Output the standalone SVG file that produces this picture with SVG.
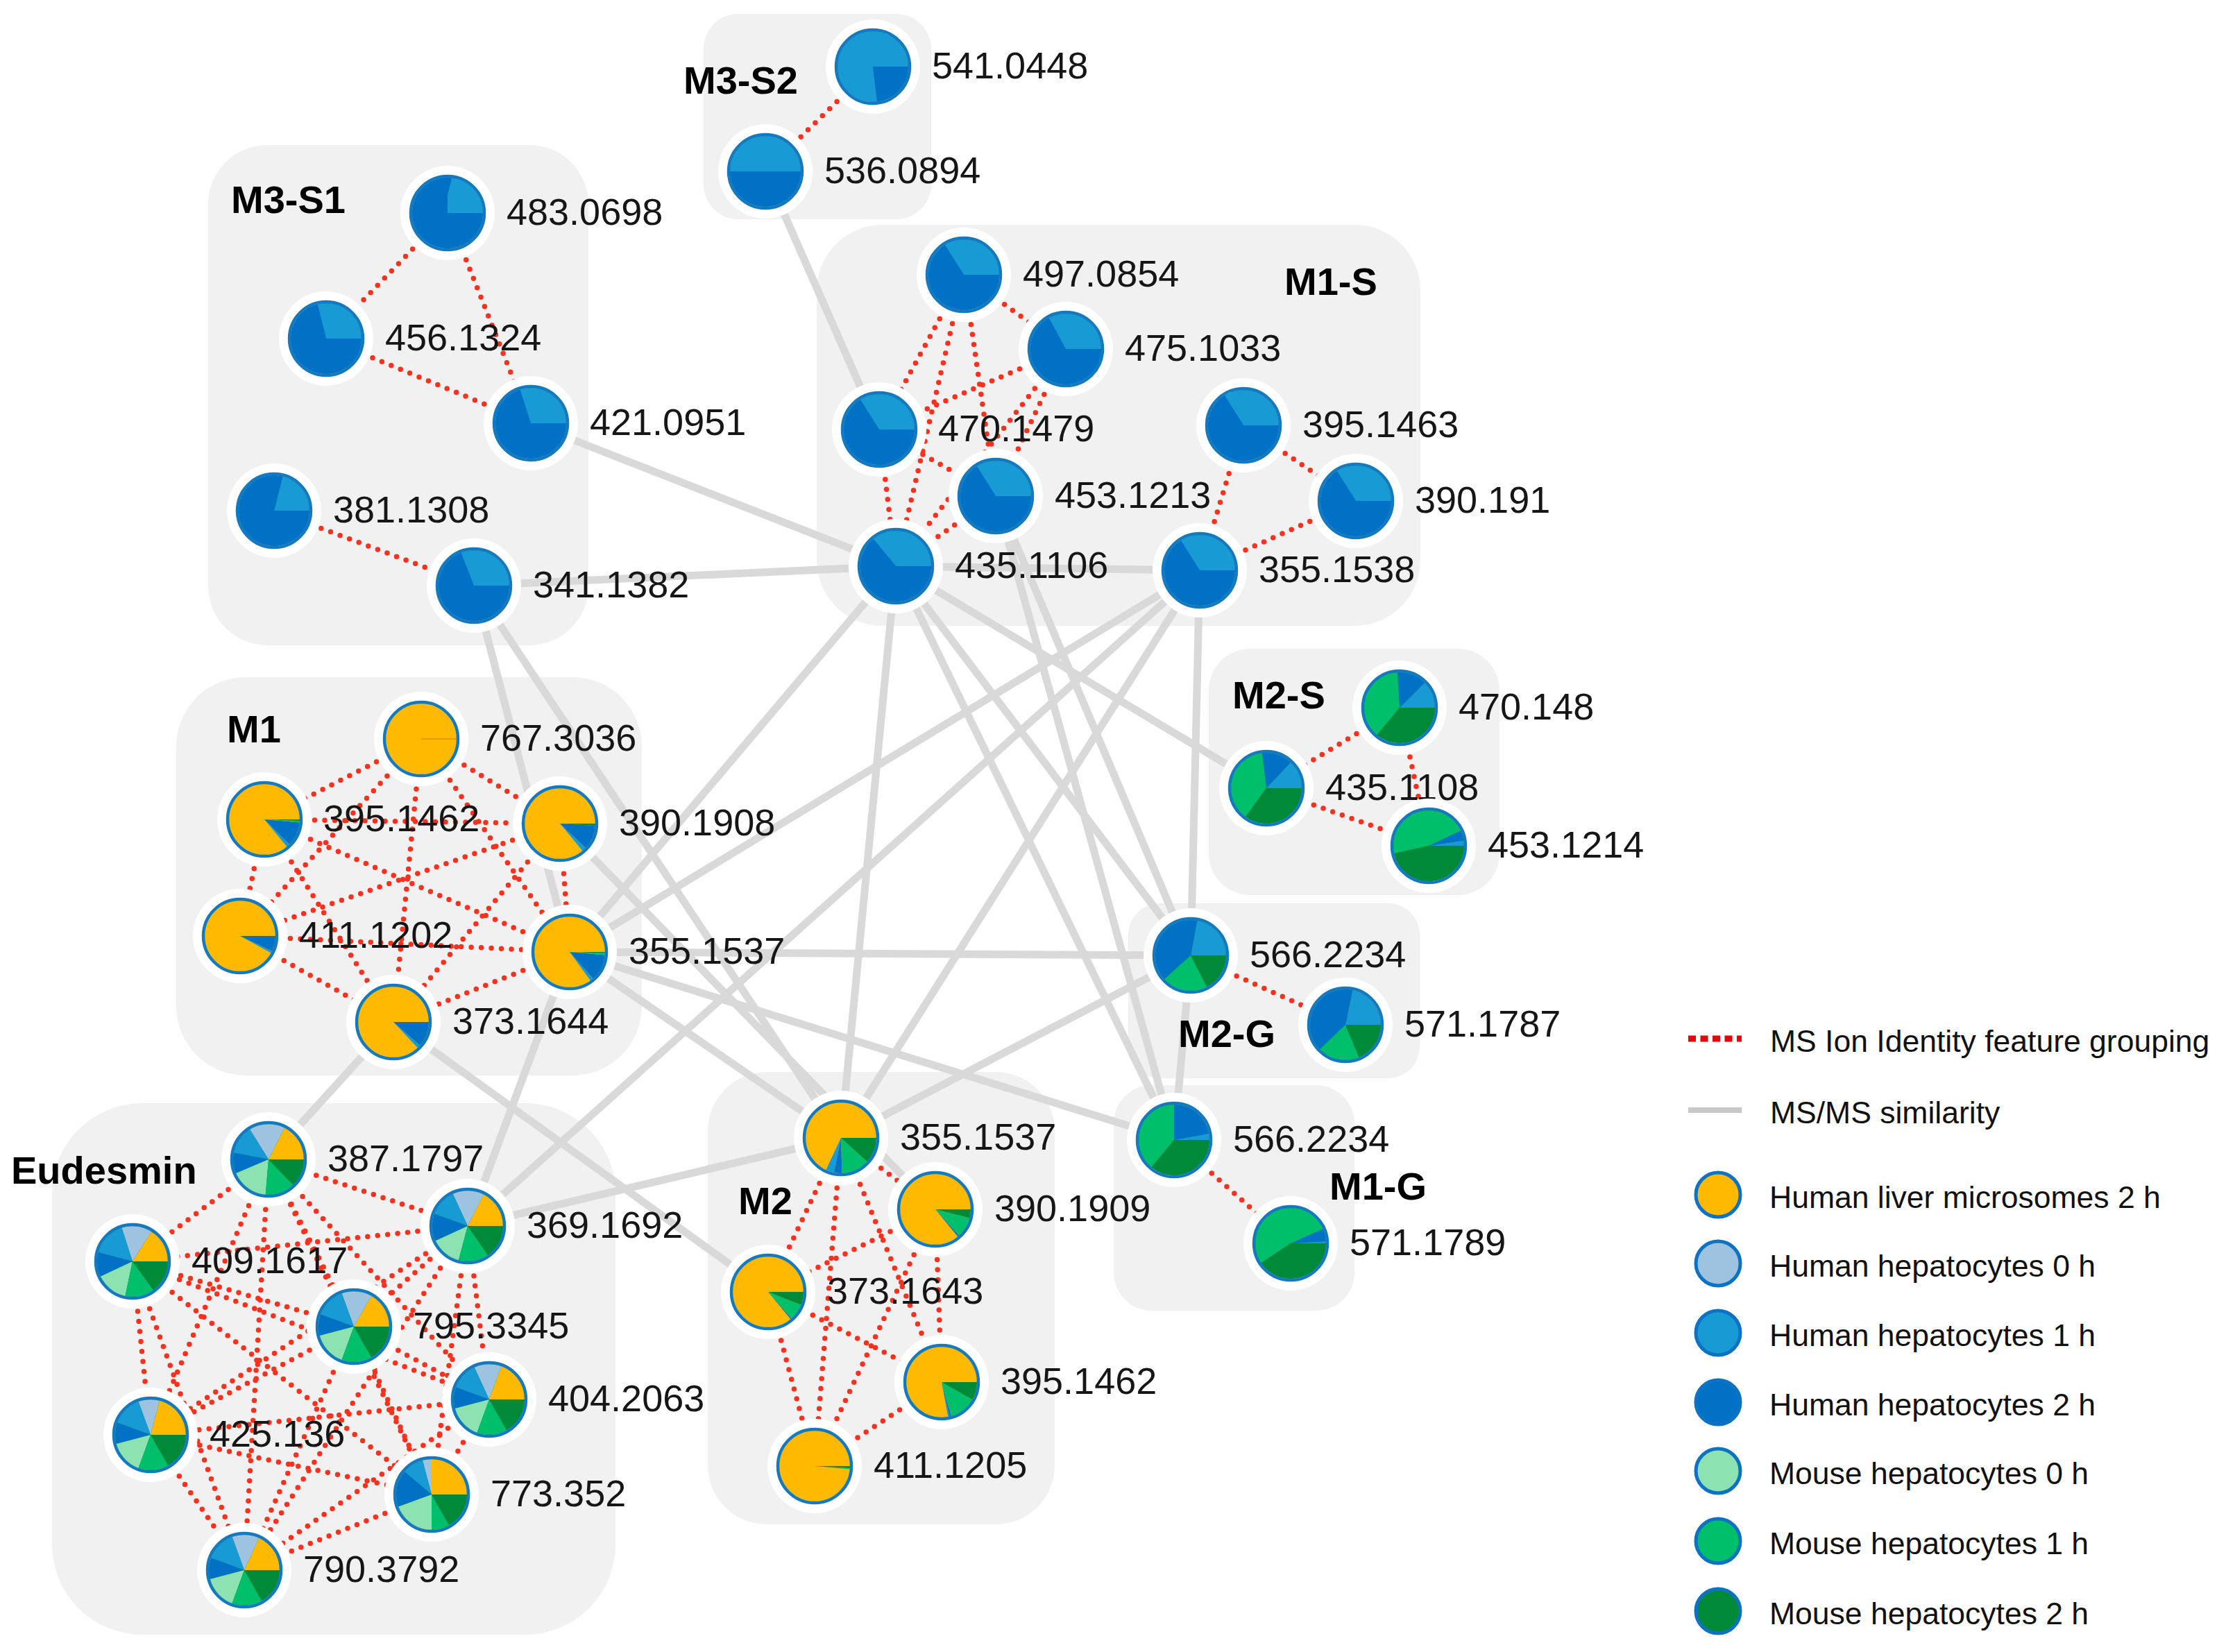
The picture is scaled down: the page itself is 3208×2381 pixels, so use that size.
<svg xmlns="http://www.w3.org/2000/svg" xmlns:xlink="http://www.w3.org/1999/xlink" width="3208" height="2381" viewBox="0 0 3208 2381">
<style>
.box{fill:#f1f1f1}
.glbl{font-family:"Liberation Sans",Arial,sans-serif;font-weight:bold;font-size:56px;fill:#000}
.gray line{stroke:#d9d9d9;stroke-width:11}
.red line{stroke:#f8321e;stroke-width:7.5;stroke-linecap:round;stroke-dasharray:0 14.5}
.halo{fill:#fff}
.rim{fill:none;stroke:#1479bd;stroke-width:4.5}
.lbl{font-family:"Liberation Sans",Arial,sans-serif;font-size:54px;fill:#161616}
.y{stroke:#ffb900}.h0{stroke:#9dc3e0}.h1{stroke:#189bd5}.h2{stroke:#0071c5}.m0{stroke:#8ce2b0}.m1{stroke:#00bf6b}.m2{stroke:#008a37}
.bb{fill:#0071c5}.bg{fill:#008a37}.by{fill:#ffb900}
.leg{font-family:"Liberation Sans",Arial,sans-serif;font-size:44.5px;fill:#111}
.lc{stroke:#0e72c4;stroke-width:5}
</style>
<defs>
<circle id="sl" r="25.5" pathLength="100" fill="none" stroke-width="51"/>
</defs>
<rect width="3208" height="2381" fill="#fff"/>

<g id="group-boxes">
<rect id="box-M3-S2" class="box" x="1014" y="20" width="328" height="296" rx="50"/>
<rect id="box-M3-S1" class="box" x="300" y="209" width="548" height="721" rx="85"/>
<rect id="box-M1-S" class="box" x="1177" y="324" width="870" height="578" rx="95"/>
<rect id="box-M2-S" class="box" x="1742" y="935" width="419" height="355" rx="60"/>
<rect id="box-M2-G" class="box" x="1626" y="1302" width="420" height="252" rx="45"/>
<rect id="box-M1-G" class="box" x="1605" y="1564" width="347" height="325" rx="55"/>
<rect id="box-M1" class="box" x="254" y="976" width="671" height="574" rx="100"/>
<rect id="box-Eudesmin" class="box" x="75" y="1590" width="812" height="766" rx="130"/>
<rect id="box-M2" class="box" x="1020" y="1545" width="500" height="652" rx="85"/>
</g>

<g id="connectors">
<g class="gray">
<line x1="1103" y1="247" x2="1267" y2="619"/>
<line x1="765" y1="610" x2="1291" y2="816"/>
<line x1="683" y1="844" x2="1291" y2="816"/>
<line x1="683" y1="844" x2="821" y2="1372"/>
<line x1="683" y1="844" x2="1212" y2="1640"/>
<line x1="1291" y1="816" x2="1729" y2="822"/>
<line x1="1291" y1="816" x2="821" y2="1372"/>
<line x1="1291" y1="816" x2="1212" y2="1640"/>
<line x1="1291" y1="816" x2="1716" y2="1377"/>
<line x1="1291" y1="816" x2="1692" y2="1643"/>
<line x1="1291" y1="816" x2="1825" y2="1136"/>
<line x1="1435" y1="715" x2="1716" y2="1377"/>
<line x1="1435" y1="715" x2="1692" y2="1643"/>
<line x1="1729" y1="822" x2="1716" y2="1377"/>
<line x1="1729" y1="822" x2="1212" y2="1640"/>
<line x1="1729" y1="822" x2="821" y2="1372"/>
<line x1="1729" y1="822" x2="674" y2="1767"/>
<line x1="1716" y1="1377" x2="1692" y2="1643"/>
<line x1="821" y1="1372" x2="1716" y2="1377"/>
<line x1="821" y1="1372" x2="1692" y2="1643"/>
<line x1="821" y1="1372" x2="1212" y2="1640"/>
<line x1="821" y1="1372" x2="674" y2="1767"/>
<line x1="807" y1="1187" x2="1348" y2="1743"/>
<line x1="567" y1="1473" x2="387" y2="1671"/>
<line x1="567" y1="1473" x2="1107" y2="1862"/>
<line x1="674" y1="1767" x2="1212" y2="1640"/>
<line x1="1212" y1="1640" x2="1716" y2="1377"/>
</g>
<g class="red">
<line x1="1258" y1="96" x2="1103" y2="247"/>
<line x1="645" y1="307" x2="470" y2="488"/>
<line x1="645" y1="307" x2="765" y2="610"/>
<line x1="470" y1="488" x2="765" y2="610"/>
<line x1="395" y1="736" x2="683" y2="844"/>
<line x1="1389" y1="396" x2="1536" y2="503"/>
<line x1="1389" y1="396" x2="1267" y2="619"/>
<line x1="1389" y1="396" x2="1435" y2="715"/>
<line x1="1389" y1="396" x2="1291" y2="816"/>
<line x1="1536" y1="503" x2="1267" y2="619"/>
<line x1="1536" y1="503" x2="1435" y2="715"/>
<line x1="1536" y1="503" x2="1291" y2="816"/>
<line x1="1267" y1="619" x2="1435" y2="715"/>
<line x1="1267" y1="619" x2="1291" y2="816"/>
<line x1="1435" y1="715" x2="1291" y2="816"/>
<line x1="1792" y1="613" x2="1954" y2="722"/>
<line x1="1792" y1="613" x2="1729" y2="822"/>
<line x1="1954" y1="722" x2="1729" y2="822"/>
<line x1="2017" y1="1020" x2="1825" y2="1136"/>
<line x1="2017" y1="1020" x2="2059" y2="1219"/>
<line x1="1825" y1="1136" x2="2059" y2="1219"/>
<line x1="1716" y1="1377" x2="1939" y2="1477"/>
<line x1="1692" y1="1643" x2="1860" y2="1792"/>
<line x1="607" y1="1065" x2="381" y2="1181"/>
<line x1="607" y1="1065" x2="807" y2="1187"/>
<line x1="607" y1="1065" x2="346" y2="1349"/>
<line x1="607" y1="1065" x2="821" y2="1372"/>
<line x1="607" y1="1065" x2="567" y2="1473"/>
<line x1="381" y1="1181" x2="807" y2="1187"/>
<line x1="381" y1="1181" x2="346" y2="1349"/>
<line x1="381" y1="1181" x2="821" y2="1372"/>
<line x1="381" y1="1181" x2="567" y2="1473"/>
<line x1="807" y1="1187" x2="346" y2="1349"/>
<line x1="807" y1="1187" x2="821" y2="1372"/>
<line x1="807" y1="1187" x2="567" y2="1473"/>
<line x1="346" y1="1349" x2="821" y2="1372"/>
<line x1="346" y1="1349" x2="567" y2="1473"/>
<line x1="821" y1="1372" x2="567" y2="1473"/>
<line x1="1212" y1="1640" x2="1348" y2="1743"/>
<line x1="1212" y1="1640" x2="1107" y2="1862"/>
<line x1="1212" y1="1640" x2="1357" y2="1992"/>
<line x1="1212" y1="1640" x2="1174" y2="2113"/>
<line x1="1348" y1="1743" x2="1107" y2="1862"/>
<line x1="1348" y1="1743" x2="1357" y2="1992"/>
<line x1="1348" y1="1743" x2="1174" y2="2113"/>
<line x1="1107" y1="1862" x2="1357" y2="1992"/>
<line x1="1107" y1="1862" x2="1174" y2="2113"/>
<line x1="1357" y1="1992" x2="1174" y2="2113"/>
<line x1="387" y1="1671" x2="674" y2="1767"/>
<line x1="387" y1="1671" x2="191" y2="1818"/>
<line x1="387" y1="1671" x2="510" y2="1912"/>
<line x1="387" y1="1671" x2="705" y2="2017"/>
<line x1="387" y1="1671" x2="217" y2="2068"/>
<line x1="387" y1="1671" x2="622" y2="2154"/>
<line x1="387" y1="1671" x2="352" y2="2263"/>
<line x1="674" y1="1767" x2="191" y2="1818"/>
<line x1="674" y1="1767" x2="510" y2="1912"/>
<line x1="674" y1="1767" x2="705" y2="2017"/>
<line x1="674" y1="1767" x2="217" y2="2068"/>
<line x1="674" y1="1767" x2="622" y2="2154"/>
<line x1="674" y1="1767" x2="352" y2="2263"/>
<line x1="191" y1="1818" x2="510" y2="1912"/>
<line x1="191" y1="1818" x2="705" y2="2017"/>
<line x1="191" y1="1818" x2="217" y2="2068"/>
<line x1="191" y1="1818" x2="622" y2="2154"/>
<line x1="191" y1="1818" x2="352" y2="2263"/>
<line x1="510" y1="1912" x2="705" y2="2017"/>
<line x1="510" y1="1912" x2="217" y2="2068"/>
<line x1="510" y1="1912" x2="622" y2="2154"/>
<line x1="510" y1="1912" x2="352" y2="2263"/>
<line x1="705" y1="2017" x2="217" y2="2068"/>
<line x1="705" y1="2017" x2="622" y2="2154"/>
<line x1="705" y1="2017" x2="352" y2="2263"/>
<line x1="217" y1="2068" x2="622" y2="2154"/>
<line x1="217" y1="2068" x2="352" y2="2263"/>
<line x1="622" y1="2154" x2="352" y2="2263"/>
</g>
</g>

<g id="group-labels">
<text class="glbl" x="985" y="135">M3-S2</text>
<text class="glbl" x="333" y="307">M3-S1</text>
<text class="glbl" x="1851" y="425">M1-S</text>
<text class="glbl" x="1776" y="1021">M2-S</text>
<text class="glbl" x="1698" y="1509">M2-G</text>
<text class="glbl" x="1916" y="1729">M1-G</text>
<text class="glbl" x="327" y="1070">M1</text>
<text class="glbl" x="16" y="1706">Eudesmin</text>
<text class="glbl" x="1064" y="1750">M2</text>
</g>

<g id="nodes">
<g id="n-541.0448" transform="translate(1258,96)"><circle class="halo" r="68"/><circle class="bb" r="51"/><g transform="scale(1,-1)"><use href="#sl" class="h1" stroke-dasharray="77 100"/><use href="#sl" class="h2" stroke-dasharray="23 100" stroke-dashoffset="-77"/></g><circle class="rim" r="53"/><text class="lbl" x="85" y="17">541.0448</text></g>
<g id="n-536.0894" transform="translate(1103,247)"><circle class="halo" r="68"/><circle class="bb" r="51"/><g transform="scale(1,-1)"><use href="#sl" class="h1" stroke-dasharray="50 100"/><use href="#sl" class="h2" stroke-dasharray="50 100" stroke-dashoffset="-50"/></g><circle class="rim" r="53"/><text class="lbl" x="85" y="17">536.0894</text></g>
<g id="n-483.0698" transform="translate(645,307)"><circle class="halo" r="68"/><circle class="bb" r="51"/><g transform="scale(1,-1)"><use href="#sl" class="h1" stroke-dasharray="25 100"/><use href="#sl" class="h2" stroke-dasharray="75 100" stroke-dashoffset="-25"/></g><circle class="rim" r="53"/><text class="lbl" x="85" y="17">483.0698</text></g>
<g id="n-456.1324" transform="translate(470,488)"><circle class="halo" r="68"/><circle class="bb" r="51"/><g transform="scale(1,-1)"><use href="#sl" class="h1" stroke-dasharray="29 100"/><use href="#sl" class="h2" stroke-dasharray="71 100" stroke-dashoffset="-29"/></g><circle class="rim" r="53"/><text class="lbl" x="85" y="17">456.1324</text></g>
<g id="n-421.0951" transform="translate(765,610)"><circle class="halo" r="68"/><circle class="bb" r="51"/><g transform="scale(1,-1)"><use href="#sl" class="h1" stroke-dasharray="30 100"/><use href="#sl" class="h2" stroke-dasharray="70 100" stroke-dashoffset="-30"/></g><circle class="rim" r="53"/><text class="lbl" x="85" y="17">421.0951</text></g>
<g id="n-381.1308" transform="translate(395,736)"><circle class="halo" r="68"/><circle class="bb" r="51"/><g transform="scale(1,-1)"><use href="#sl" class="h1" stroke-dasharray="21 100"/><use href="#sl" class="h2" stroke-dasharray="79 100" stroke-dashoffset="-21"/></g><circle class="rim" r="53"/><text class="lbl" x="85" y="17">381.1308</text></g>
<g id="n-341.1382" transform="translate(683,844)"><circle class="halo" r="68"/><circle class="bb" r="51"/><g transform="scale(1,-1)"><use href="#sl" class="h1" stroke-dasharray="31 100"/><use href="#sl" class="h2" stroke-dasharray="69 100" stroke-dashoffset="-31"/></g><circle class="rim" r="53"/><text class="lbl" x="85" y="17">341.1382</text></g>
<g id="n-497.0854" transform="translate(1389,396)"><circle class="halo" r="68"/><circle class="bb" r="51"/><g transform="scale(1,-1)"><use href="#sl" class="h1" stroke-dasharray="34 100"/><use href="#sl" class="h2" stroke-dasharray="66 100" stroke-dashoffset="-34"/></g><circle class="rim" r="53"/><text class="lbl" x="85" y="17">497.0854</text></g>
<g id="n-475.1033" transform="translate(1536,503)"><circle class="halo" r="68"/><circle class="bb" r="51"/><g transform="scale(1,-1)"><use href="#sl" class="h1" stroke-dasharray="33 100"/><use href="#sl" class="h2" stroke-dasharray="67 100" stroke-dashoffset="-33"/></g><circle class="rim" r="53"/><text class="lbl" x="85" y="17">475.1033</text></g>
<g id="n-470.1479" transform="translate(1267,619)"><circle class="halo" r="68"/><circle class="bb" r="51"/><g transform="scale(1,-1)"><use href="#sl" class="h1" stroke-dasharray="34 100"/><use href="#sl" class="h2" stroke-dasharray="66 100" stroke-dashoffset="-34"/></g><circle class="rim" r="53"/><text class="lbl" x="85" y="17">470.1479</text></g>
<g id="n-453.1213" transform="translate(1435,715)"><circle class="halo" r="68"/><circle class="bb" r="51"/><g transform="scale(1,-1)"><use href="#sl" class="h1" stroke-dasharray="34 100"/><use href="#sl" class="h2" stroke-dasharray="66 100" stroke-dashoffset="-34"/></g><circle class="rim" r="53"/><text class="lbl" x="85" y="17">453.1213</text></g>
<g id="n-435.1106" transform="translate(1291,816)"><circle class="halo" r="68"/><circle class="bb" r="51"/><g transform="scale(1,-1)"><use href="#sl" class="h1" stroke-dasharray="36 100"/><use href="#sl" class="h2" stroke-dasharray="64 100" stroke-dashoffset="-36"/></g><circle class="rim" r="53"/><text class="lbl" x="85" y="17">435.1106</text></g>
<g id="n-395.1463" transform="translate(1792,613)"><circle class="halo" r="68"/><circle class="bb" r="51"/><g transform="scale(1,-1)"><use href="#sl" class="h1" stroke-dasharray="34 100"/><use href="#sl" class="h2" stroke-dasharray="66 100" stroke-dashoffset="-34"/></g><circle class="rim" r="53"/><text class="lbl" x="85" y="17">395.1463</text></g>
<g id="n-390.191" transform="translate(1954,722)"><circle class="halo" r="68"/><circle class="bb" r="51"/><g transform="scale(1,-1)"><use href="#sl" class="h1" stroke-dasharray="34 100"/><use href="#sl" class="h2" stroke-dasharray="66 100" stroke-dashoffset="-34"/></g><circle class="rim" r="53"/><text class="lbl" x="85" y="17">390.191</text></g>
<g id="n-355.1538" transform="translate(1729,822)"><circle class="halo" r="68"/><circle class="bb" r="51"/><g transform="scale(1,-1)"><use href="#sl" class="h1" stroke-dasharray="34 100"/><use href="#sl" class="h2" stroke-dasharray="66 100" stroke-dashoffset="-34"/></g><circle class="rim" r="53"/><text class="lbl" x="85" y="17">355.1538</text></g>

<g id="n-470.148" transform="translate(2017,1020)"><circle class="halo" r="68"/><circle class="bg" r="51"/><g transform="scale(1,-1)"><use href="#sl" class="h1" stroke-dasharray="12.5 100"/><use href="#sl" class="h2" stroke-dasharray="13.5 100" stroke-dashoffset="-12.5"/><use href="#sl" class="m1" stroke-dasharray="38 100" stroke-dashoffset="-26"/><use href="#sl" class="m2" stroke-dasharray="36 100" stroke-dashoffset="-64"/></g><circle class="rim" r="53"/><text class="lbl" x="85" y="17">470.148</text></g>
<g id="n-435.1108" transform="translate(1825,1136)"><circle class="halo" r="68"/><circle class="bg" r="51"/><g transform="scale(1,-1)"><use href="#sl" class="h1" stroke-dasharray="13 100"/><use href="#sl" class="h2" stroke-dasharray="14 100" stroke-dashoffset="-13"/><use href="#sl" class="m1" stroke-dasharray="38 100" stroke-dashoffset="-27"/><use href="#sl" class="m2" stroke-dasharray="35 100" stroke-dashoffset="-65"/></g><circle class="rim" r="53"/><text class="lbl" x="85" y="17">435.1108</text></g>
<g id="n-453.1214" transform="translate(2059,1219)"><circle class="halo" r="68"/><circle class="bg" r="51"/><g transform="scale(1,-1)"><use href="#sl" class="h1" stroke-dasharray="2.5 100"/><use href="#sl" class="h2" stroke-dasharray="4.5 100" stroke-dashoffset="-2.5"/><use href="#sl" class="m1" stroke-dasharray="46.6 100" stroke-dashoffset="-7"/><use href="#sl" class="m2" stroke-dasharray="46.4 100" stroke-dashoffset="-53.6"/></g><circle class="rim" r="53"/><text class="lbl" x="85" y="17">453.1214</text></g>
<g id="n-566.2234-M2G" transform="translate(1716,1377)"><circle class="halo" r="68"/><circle class="bg" r="51"/><g transform="scale(1,-1)"><use href="#sl" class="h1" stroke-dasharray="22 100"/><use href="#sl" class="h2" stroke-dasharray="39.7 100" stroke-dashoffset="-22"/><use href="#sl" class="m1" stroke-dasharray="20.9 100" stroke-dashoffset="-61.7"/><use href="#sl" class="m2" stroke-dasharray="17.4 100" stroke-dashoffset="-82.6"/></g><circle class="rim" r="53"/><text class="lbl" x="85" y="17">566.2234</text></g>
<g id="n-571.1787" transform="translate(1939,1477)"><circle class="halo" r="68"/><circle class="bg" r="51"/><g transform="scale(1,-1)"><use href="#sl" class="h1" stroke-dasharray="21.7 100"/><use href="#sl" class="h2" stroke-dasharray="40.5 100" stroke-dashoffset="-21.7"/><use href="#sl" class="m1" stroke-dasharray="19.1 100" stroke-dashoffset="-62.2"/><use href="#sl" class="m2" stroke-dasharray="18.7 100" stroke-dashoffset="-81.3"/></g><circle class="rim" r="53"/><text class="lbl" x="85" y="17">571.1787</text></g>
<g id="n-566.2234-M1G" transform="translate(1692,1643)"><circle class="halo" r="68"/><circle class="bg" r="51"/><g transform="scale(1,-1)"><use href="#sl" class="h1" stroke-dasharray="3 100"/><use href="#sl" class="h2" stroke-dasharray="22 100" stroke-dashoffset="-3"/><use href="#sl" class="m1" stroke-dasharray="39 100" stroke-dashoffset="-25"/><use href="#sl" class="m2" stroke-dasharray="36 100" stroke-dashoffset="-64"/></g><circle class="rim" r="53"/><text class="lbl" x="85" y="17">566.2234</text></g>
<g id="n-571.1789" transform="translate(1860,1792)"><circle class="halo" r="68"/><circle class="bg" r="51"/><g transform="scale(1,-1)"><use href="#sl" class="h1" stroke-dasharray="1 100"/><use href="#sl" class="h2" stroke-dasharray="5.7 100" stroke-dashoffset="-1"/><use href="#sl" class="m1" stroke-dasharray="52.7 100" stroke-dashoffset="-6.7"/><use href="#sl" class="m2" stroke-dasharray="40.6 100" stroke-dashoffset="-59.4"/></g><circle class="rim" r="53"/><text class="lbl" x="85" y="17">571.1789</text></g>

<g id="n-767.3036" transform="translate(607,1065)"><circle class="halo" r="68"/><circle class="by" r="51"/><line x1="0" y1="0" x2="51" y2="0" stroke="#e89a00" stroke-width="2"/><circle class="rim" r="53"/><text class="lbl" x="85" y="17">767.3036</text></g>
<g id="n-395.1462-M1" transform="translate(381,1181)"><circle class="halo" r="68"/><circle class="by" r="51"/><g transform="scale(1,-1)"><use href="#sl" class="y" stroke-dasharray="86 100"/><use href="#sl" class="h1" stroke-dasharray="1.5 100" stroke-dashoffset="-86"/><use href="#sl" class="h2" stroke-dasharray="11 100" stroke-dashoffset="-87.5"/><use href="#sl" class="m1" stroke-dasharray="0.8 100" stroke-dashoffset="-98.5"/><use href="#sl" class="m2" stroke-dasharray="0.7 100" stroke-dashoffset="-99.3"/></g><circle class="rim" r="53"/><text class="lbl" x="85" y="17">395.1462</text></g>
<g id="n-390.1908" transform="translate(807,1187)"><circle class="halo" r="68"/><circle class="by" r="51"/><g transform="scale(1,-1)"><use href="#sl" class="y" stroke-dasharray="86 100"/><use href="#sl" class="h1" stroke-dasharray="2 100" stroke-dashoffset="-86"/><use href="#sl" class="h2" stroke-dasharray="11 100" stroke-dashoffset="-88"/><use href="#sl" class="m2" stroke-dasharray="1 100" stroke-dashoffset="-99"/></g><circle class="rim" r="53"/><text class="lbl" x="85" y="17">390.1908</text></g>
<g id="n-411.1202" transform="translate(346,1349)"><circle class="halo" r="68"/><circle class="by" r="51"/><g transform="scale(1,-1)"><use href="#sl" class="y" stroke-dasharray="92 100"/><use href="#sl" class="h1" stroke-dasharray="1 100" stroke-dashoffset="-92"/><use href="#sl" class="h2" stroke-dasharray="7 100" stroke-dashoffset="-93"/></g><circle class="rim" r="53"/><text class="lbl" x="85" y="17">411.1202</text></g>
<g id="n-355.1537-M1" transform="translate(821,1372)"><circle class="halo" r="68"/><circle class="by" r="51"/><g transform="scale(1,-1)"><use href="#sl" class="y" stroke-dasharray="85 100"/><use href="#sl" class="h1" stroke-dasharray="1.5 100" stroke-dashoffset="-85"/><use href="#sl" class="h2" stroke-dasharray="12 100" stroke-dashoffset="-86.5"/><use href="#sl" class="m1" stroke-dasharray="1 100" stroke-dashoffset="-98.5"/><use href="#sl" class="m2" stroke-dasharray="0.5 100" stroke-dashoffset="-99.5"/></g><circle class="rim" r="53"/><text class="lbl" x="85" y="17">355.1537</text></g>
<g id="n-373.1644" transform="translate(567,1473)"><circle class="halo" r="68"/><circle class="by" r="51"/><g transform="scale(1,-1)"><use href="#sl" class="y" stroke-dasharray="87 100"/><use href="#sl" class="h1" stroke-dasharray="1.5 100" stroke-dashoffset="-87"/><use href="#sl" class="h2" stroke-dasharray="11.5 100" stroke-dashoffset="-88.5"/></g><circle class="rim" r="53"/><text class="lbl" x="85" y="17">373.1644</text></g>

<g id="n-355.1537-M2" transform="translate(1212,1640)"><circle class="halo" r="68"/><circle class="by" r="51"/><g transform="scale(1,-1)"><use href="#sl" class="y" stroke-dasharray="68 100"/><use href="#sl" class="h1" stroke-dasharray="3.8 100" stroke-dashoffset="-68"/><use href="#sl" class="h2" stroke-dasharray="3.7 100" stroke-dashoffset="-71.8"/><use href="#sl" class="m1" stroke-dasharray="12.8 100" stroke-dashoffset="-75.5"/><use href="#sl" class="m2" stroke-dasharray="11.7 100" stroke-dashoffset="-88.3"/></g><circle class="rim" r="53"/><text class="lbl" x="85" y="17">355.1537</text></g>
<g id="n-390.1909" transform="translate(1348,1743)"><circle class="halo" r="68"/><circle class="by" r="51"/><g transform="scale(1,-1)"><use href="#sl" class="y" stroke-dasharray="86 100"/><use href="#sl" class="h2" stroke-dasharray="0.7 100" stroke-dashoffset="-86"/><use href="#sl" class="m1" stroke-dasharray="9.3 100" stroke-dashoffset="-86.7"/><use href="#sl" class="m2" stroke-dasharray="4 100" stroke-dashoffset="-96"/></g><circle class="rim" r="53"/><text class="lbl" x="85" y="17">390.1909</text></g>
<g id="n-373.1643" transform="translate(1107,1862)"><circle class="halo" r="68"/><circle class="by" r="51"/><g transform="scale(1,-1)"><use href="#sl" class="y" stroke-dasharray="86 100"/><use href="#sl" class="h2" stroke-dasharray="0.5 100" stroke-dashoffset="-86"/><use href="#sl" class="m1" stroke-dasharray="7.5 100" stroke-dashoffset="-86.5"/><use href="#sl" class="m2" stroke-dasharray="6 100" stroke-dashoffset="-94"/></g><circle class="rim" r="53"/><text class="lbl" x="85" y="17">373.1643</text></g>
<g id="n-395.1462-M2" transform="translate(1357,1992)"><circle class="halo" r="68"/><circle class="by" r="51"/><g transform="scale(1,-1)"><use href="#sl" class="y" stroke-dasharray="78 100"/><use href="#sl" class="h1" stroke-dasharray="0.7 100" stroke-dashoffset="-78"/><use href="#sl" class="h2" stroke-dasharray="0.8 100" stroke-dashoffset="-78.7"/><use href="#sl" class="m1" stroke-dasharray="12.2 100" stroke-dashoffset="-79.5"/><use href="#sl" class="m2" stroke-dasharray="8.3 100" stroke-dashoffset="-91.7"/></g><circle class="rim" r="53"/><text class="lbl" x="85" y="17">395.1462</text></g>
<g id="n-411.1205" transform="translate(1174,2113)"><circle class="halo" r="68"/><circle class="by" r="51"/><g transform="scale(1,-1)"><use href="#sl" class="y" stroke-dasharray="98.5 100"/><use href="#sl" class="m1" stroke-dasharray="0.5 100" stroke-dashoffset="-98.5"/><use href="#sl" class="m2" stroke-dasharray="1 100" stroke-dashoffset="-99"/></g><circle class="rim" r="53"/><text class="lbl" x="85" y="17">411.1205</text></g>

<g id="n-387.1797" transform="translate(387,1671)"><circle class="halo" r="68"/><circle class="bg" r="51"/><g transform="scale(1,-1)"><use href="#sl" class="y" stroke-dasharray="17.5 100"/><use href="#sl" class="h0" stroke-dasharray="16.4 100" stroke-dashoffset="-17.5"/><use href="#sl" class="h1" stroke-dasharray="13 100" stroke-dashoffset="-33.9"/><use href="#sl" class="h2" stroke-dasharray="9.5 100" stroke-dashoffset="-46.9"/><use href="#sl" class="m0" stroke-dasharray="17.2 100" stroke-dashoffset="-56.4"/><use href="#sl" class="m1" stroke-dasharray="13.6 100" stroke-dashoffset="-73.6"/><use href="#sl" class="m2" stroke-dasharray="12.8 100" stroke-dashoffset="-87.2"/></g><circle class="rim" r="53"/><text class="lbl" x="85" y="17">387.1797</text></g>
<g id="n-369.1692" transform="translate(674,1767)"><circle class="halo" r="68"/><circle class="bg" r="51"/><g transform="scale(1,-1)"><use href="#sl" class="y" stroke-dasharray="17.5 100"/><use href="#sl" class="h0" stroke-dasharray="14.4 100" stroke-dashoffset="-17.5"/><use href="#sl" class="h1" stroke-dasharray="12.5 100" stroke-dashoffset="-31.9"/><use href="#sl" class="h2" stroke-dasharray="12.5 100" stroke-dashoffset="-44.4"/><use href="#sl" class="m0" stroke-dasharray="13.9 100" stroke-dashoffset="-56.9"/><use href="#sl" class="m1" stroke-dasharray="13.9 100" stroke-dashoffset="-70.8"/><use href="#sl" class="m2" stroke-dasharray="15.3 100" stroke-dashoffset="-84.7"/></g><circle class="rim" r="53"/><text class="lbl" x="85" y="17">369.1692</text></g>
<g id="n-409.1617" transform="translate(191,1818)"><circle class="halo" r="68"/><circle class="bg" r="51"/><g transform="scale(1,-1)"><use href="#sl" class="y" stroke-dasharray="16 100"/><use href="#sl" class="h0" stroke-dasharray="14 100" stroke-dashoffset="-16"/><use href="#sl" class="h1" stroke-dasharray="15.8 100" stroke-dashoffset="-30"/><use href="#sl" class="h2" stroke-dasharray="11.2 100" stroke-dashoffset="-45.8"/><use href="#sl" class="m0" stroke-dasharray="14.6 100" stroke-dashoffset="-57"/><use href="#sl" class="m1" stroke-dasharray="13.4 100" stroke-dashoffset="-71.6"/><use href="#sl" class="m2" stroke-dasharray="15 100" stroke-dashoffset="-85"/></g><circle class="rim" r="53"/><text class="lbl" x="85" y="17">409.1617</text></g>
<g id="n-795.3345" transform="translate(510,1912)"><circle class="halo" r="68"/><circle class="bg" r="51"/><g transform="scale(1,-1)"><use href="#sl" class="y" stroke-dasharray="16.7 100"/><use href="#sl" class="h0" stroke-dasharray="13.9 100" stroke-dashoffset="-16.7"/><use href="#sl" class="h1" stroke-dasharray="13.8 100" stroke-dashoffset="-30.6"/><use href="#sl" class="h2" stroke-dasharray="9.8 100" stroke-dashoffset="-44.4"/><use href="#sl" class="m0" stroke-dasharray="15.2 100" stroke-dashoffset="-54.2"/><use href="#sl" class="m1" stroke-dasharray="13.9 100" stroke-dashoffset="-69.4"/><use href="#sl" class="m2" stroke-dasharray="16.7 100" stroke-dashoffset="-83.3"/></g><circle class="rim" r="53"/><text class="lbl" x="85" y="17">795.3345</text></g>
<g id="n-404.2063" transform="translate(705,2017)"><circle class="halo" r="68"/><circle class="bg" r="51"/><g transform="scale(1,-1)"><use href="#sl" class="y" stroke-dasharray="19.4 100"/><use href="#sl" class="h0" stroke-dasharray="12.5 100" stroke-dashoffset="-19.4"/><use href="#sl" class="h1" stroke-dasharray="12.5 100" stroke-dashoffset="-31.9"/><use href="#sl" class="h2" stroke-dasharray="9.8 100" stroke-dashoffset="-44.4"/><use href="#sl" class="m0" stroke-dasharray="15.2 100" stroke-dashoffset="-54.2"/><use href="#sl" class="m1" stroke-dasharray="13.9 100" stroke-dashoffset="-69.4"/><use href="#sl" class="m2" stroke-dasharray="16.7 100" stroke-dashoffset="-83.3"/></g><circle class="rim" r="53"/><text class="lbl" x="85" y="17">404.2063</text></g>
<g id="n-425.136" transform="translate(217,2068)"><circle class="halo" r="68"/><circle class="bg" r="51"/><g transform="scale(1,-1)"><use href="#sl" class="y" stroke-dasharray="20.8 100"/><use href="#sl" class="h0" stroke-dasharray="9.8 100" stroke-dashoffset="-20.8"/><use href="#sl" class="h1" stroke-dasharray="13.8 100" stroke-dashoffset="-30.6"/><use href="#sl" class="h2" stroke-dasharray="9.8 100" stroke-dashoffset="-44.4"/><use href="#sl" class="m0" stroke-dasharray="15.2 100" stroke-dashoffset="-54.2"/><use href="#sl" class="m1" stroke-dasharray="13.9 100" stroke-dashoffset="-69.4"/><use href="#sl" class="m2" stroke-dasharray="16.7 100" stroke-dashoffset="-83.3"/></g><circle class="rim" r="53"/><text class="lbl" x="85" y="17">425.136</text></g>
<g id="n-773.352" transform="translate(622,2154)"><circle class="halo" r="68"/><circle class="bg" r="51"/><g transform="scale(1,-1)"><use href="#sl" class="y" stroke-dasharray="25 100"/><use href="#sl" class="h0" stroke-dasharray="4.2 100" stroke-dashoffset="-25"/><use href="#sl" class="h1" stroke-dasharray="9.7 100" stroke-dashoffset="-29.2"/><use href="#sl" class="h2" stroke-dasharray="16.7 100" stroke-dashoffset="-38.9"/><use href="#sl" class="m0" stroke-dasharray="19.4 100" stroke-dashoffset="-55.6"/><use href="#sl" class="m1" stroke-dasharray="8.3 100" stroke-dashoffset="-75"/><use href="#sl" class="m2" stroke-dasharray="16.7 100" stroke-dashoffset="-83.3"/></g><circle class="rim" r="53"/><text class="lbl" x="85" y="17">773.352</text></g>
<g id="n-790.3792" transform="translate(352,2263)"><circle class="halo" r="68"/><circle class="bg" r="51"/><g transform="scale(1,-1)"><use href="#sl" class="y" stroke-dasharray="18.1 100"/><use href="#sl" class="h0" stroke-dasharray="12.5 100" stroke-dashoffset="-18.1"/><use href="#sl" class="h1" stroke-dasharray="13.8 100" stroke-dashoffset="-30.6"/><use href="#sl" class="h2" stroke-dasharray="9.8 100" stroke-dashoffset="-44.4"/><use href="#sl" class="m0" stroke-dasharray="15.2 100" stroke-dashoffset="-54.2"/><use href="#sl" class="m1" stroke-dasharray="13.9 100" stroke-dashoffset="-69.4"/><use href="#sl" class="m2" stroke-dasharray="16.7 100" stroke-dashoffset="-83.3"/></g><circle class="rim" r="53"/><text class="lbl" x="85" y="17">790.3792</text></g>
</g>

<g id="legend">
<line x1="2433" y1="1497" x2="2510" y2="1497" stroke="#e8000b" stroke-width="9" stroke-dasharray="11 6.5"/>
<text class="leg" x="2551" y="1516">MS Ion Identity feature grouping</text>
<line x1="2433" y1="1600" x2="2510" y2="1600" stroke="#c8c8c8" stroke-width="8"/>
<text class="leg" x="2551" y="1619">MS/MS similarity</text>
<circle class="lc" cx="2476" cy="1722" r="32" fill="#ffb900"/>
<text class="leg" x="2550" y="1741">Human liver microsomes 2 h</text>
<circle class="lc" cx="2476" cy="1821" r="32" fill="#9dc3e0"/>
<text class="leg" x="2550" y="1840">Human hepatocytes 0 h</text>
<circle class="lc" cx="2476" cy="1921" r="32" fill="#189bd5"/>
<text class="leg" x="2550" y="1940">Human hepatocytes 1 h</text>
<circle class="lc" cx="2476" cy="2021" r="32" fill="#0071c5"/>
<text class="leg" x="2550" y="2040">Human hepatocytes 2 h</text>
<circle class="lc" cx="2476" cy="2120" r="32" fill="#8ce2b0"/>
<text class="leg" x="2550" y="2139">Mouse hepatocytes 0 h</text>
<circle class="lc" cx="2476" cy="2221" r="32" fill="#00bf6b"/>
<text class="leg" x="2550" y="2240">Mouse hepatocytes 1 h</text>
<circle class="lc" cx="2476" cy="2322" r="32" fill="#008a37"/>
<text class="leg" x="2550" y="2341">Mouse hepatocytes 2 h</text>
</g>
</svg>
